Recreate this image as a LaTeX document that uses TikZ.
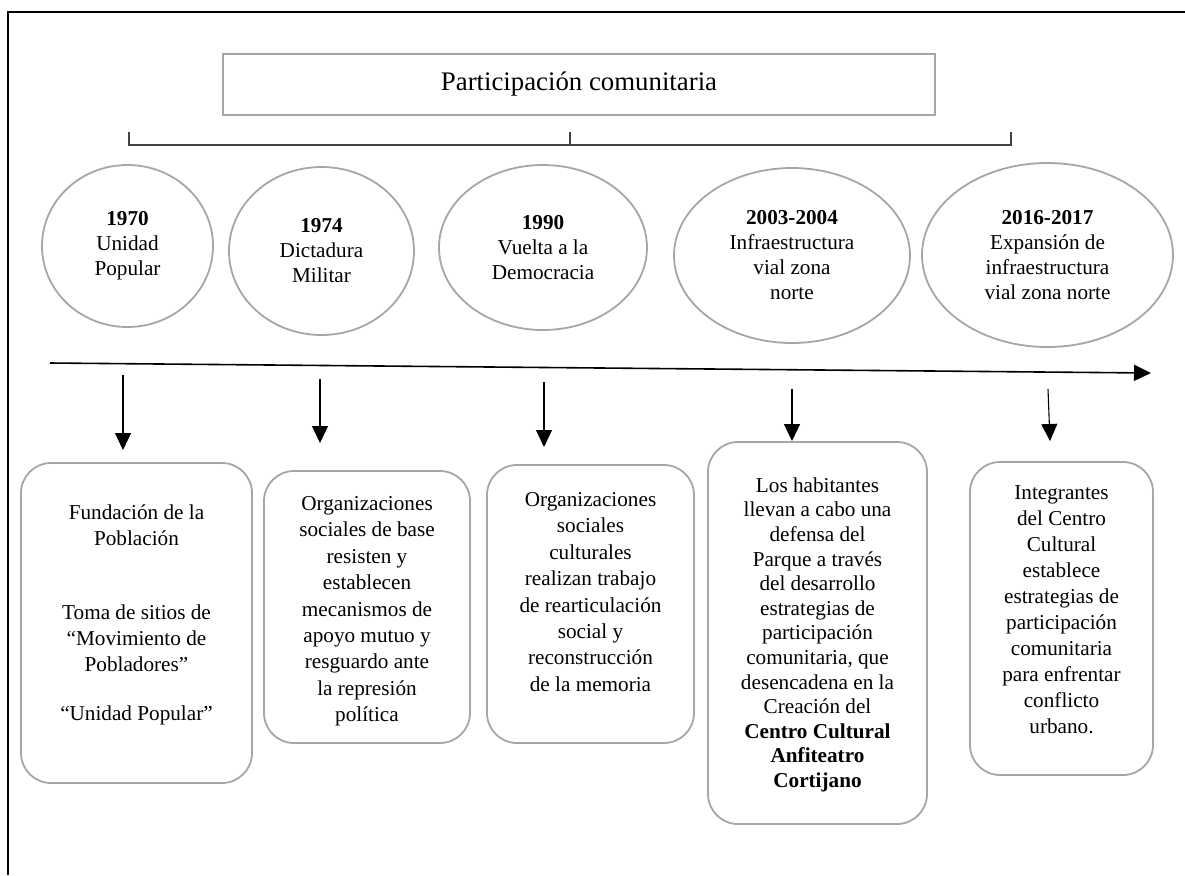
\documentclass[tikz,border=0pt]{standalone}
\usepackage{fontspec}
\setmainfont{Liberation Serif}
\usetikzlibrary{shapes.geometric,arrows.meta,positioning}

\definecolor{marco}{HTML}{A6A6A6}
\definecolor{llave}{HTML}{404040}

\begin{document}
\begin{tikzpicture}[x=0.5pt, y=-0.5pt, >={Triangle[width=8pt,length=8.5pt]},
    font=\fontsize{10.6}{13.2}\selectfont,
    etapa/.style={draw=marco, line width=0.9pt, ellipse, inner sep=0pt, align=center,
        font=\fontsize{10.6}{12.5}\selectfont},
    caja/.style={draw=marco, line width=0.9pt, rounded corners=15pt, inner sep=0pt},
    texto/.style={align=center, inner sep=0pt},
    flecha/.style={->, line width=0.55pt}]

    \useasboundingbox (0,0) rectangle (1185,875);

    % Marco
    \coordinate (mA) at (8,875);
    \coordinate (mB) at (8,12);
    \coordinate (mC) at (1185,12);
    \draw[line width=0.8pt] (mA) -- (mB) -- (mC);

    % Titulo y llave
    \node[draw=marco, line width=0.9pt, minimum width=356pt, minimum height=30.5pt,
        font=\fontsize{13.4}{16}\selectfont] (titulo) at (579,84.5) {Participación comunitaria};
    \coordinate (llI) at (129,132);
    \coordinate (llD) at (1011,132);
    \coordinate (llM) at (570,132);
    \draw[llave, line width=0.6pt] (llI) -- ++(0,13) -| (llD);
    \draw[llave, line width=0.6pt] (llM) -- ++(0,13);

    % Etapas (elipses)
    \node[etapa, minimum width=85.5pt, minimum height=81pt] (e1) at (127.5,246)
        {\textbf{1970}\\Unidad\\Popular};
    \node[etapa, minimum width=92.5pt, minimum height=84pt] (e2) at (321.5,251)
        {\textbf{1974}\\Dictadura\\Militar};
    \node[etapa, minimum width=104pt, minimum height=82.5pt] (e3) at (543,247.5)
        {\textbf{1990}\\Vuelta a la\\Democracia};
    \node[etapa, minimum width=118pt, minimum height=87.5pt] (e4) at (792,255.5)
        {\textbf{2003-2004}\\Infraestructura\\vial zona\\norte};
    \node[etapa, minimum width=125.5pt, minimum height=92pt] (e5) at (1047.5,255)
        {\textbf{2016-2017}\\Expansión de\\infraestructura\\vial zona norte};

    % Linea de tiempo
    \coordinate (lt0) at (50,363);
    \coordinate (lt1) at (1151,373);
    \draw[->, line width=0.8pt] (lt0) -- (lt1);

    % Flechas hacia abajo
    \coordinate (f1a) at (123,375);  \coordinate (f1b) at (123,450);
    \coordinate (f2a) at (320,379);  \coordinate (f2b) at (320,443);
    \coordinate (f3a) at (544,382);  \coordinate (f3b) at (544,447);
    \coordinate (f4a) at (792,389);  \coordinate (f4b) at (792,441);
    \coordinate (f5a) at (1048,389); \coordinate (f5b) at (1050,441);
    \foreach \i in {1,...,5}
        \draw[flecha] (f\i a) -- (f\i b);

    % Cajas
    \node[caja, minimum width=115.5pt, minimum height=160pt] (b1) at (136.5,623) {};
    \node[caja, minimum width=103pt, minimum height=136pt] (b2) at (367,607) {};
    \node[caja, minimum width=103.5pt, minimum height=139pt] (b3) at (590.5,604) {};
    \node[caja, minimum width=109.5pt, minimum height=191pt] (b4) at (817.5,633) {};
    \node[caja, minimum width=91.5pt, minimum height=156.5pt] (b5) at (1061.5,618.5) {};

    \node[texto, below=21pt of b1.north] (t1)
        {Fundación de la\\Población\\[23.5pt]Toma de sitios de\\“Movimiento de\\Pobladores”\\[11pt]“Unidad Popular”};
    \node[texto, below=13pt of b2.north] (t2)
        {Organizaciones\\sociales de base\\resisten y\\establecen\\mecanismos de\\apoyo mutuo y\\resguardo ante\\la represión\\política};
    \node[texto, below=14pt of b3.north] (t3)
        {Organizaciones\\sociales\\culturales\\realizan trabajo\\de rearticulación\\social y\\reconstrucción\\de la memoria};
    \node[texto, below=18pt of b4.north, font=\fontsize{10.6}{12.3}\selectfont] (t4)
        {Los habitantes\\llevan a cabo una\\defensa del\\Parque a través\\del desarrollo\\estrategias de\\participación\\comunitaria, que\\desencadena en la\\Creación del\\\textbf{Centro Cultural}\\\textbf{Anfiteatro}\\\textbf{Cortijano}};
    \node[texto, below=12pt of b5.north, font=\fontsize{10.6}{13}\selectfont] (t5)
        {Integrantes\\del Centro\\Cultural\\establece\\estrategias de\\participación\\comunitaria\\para enfrentar\\conflicto\\urbano.};

\end{tikzpicture}
\end{document}
